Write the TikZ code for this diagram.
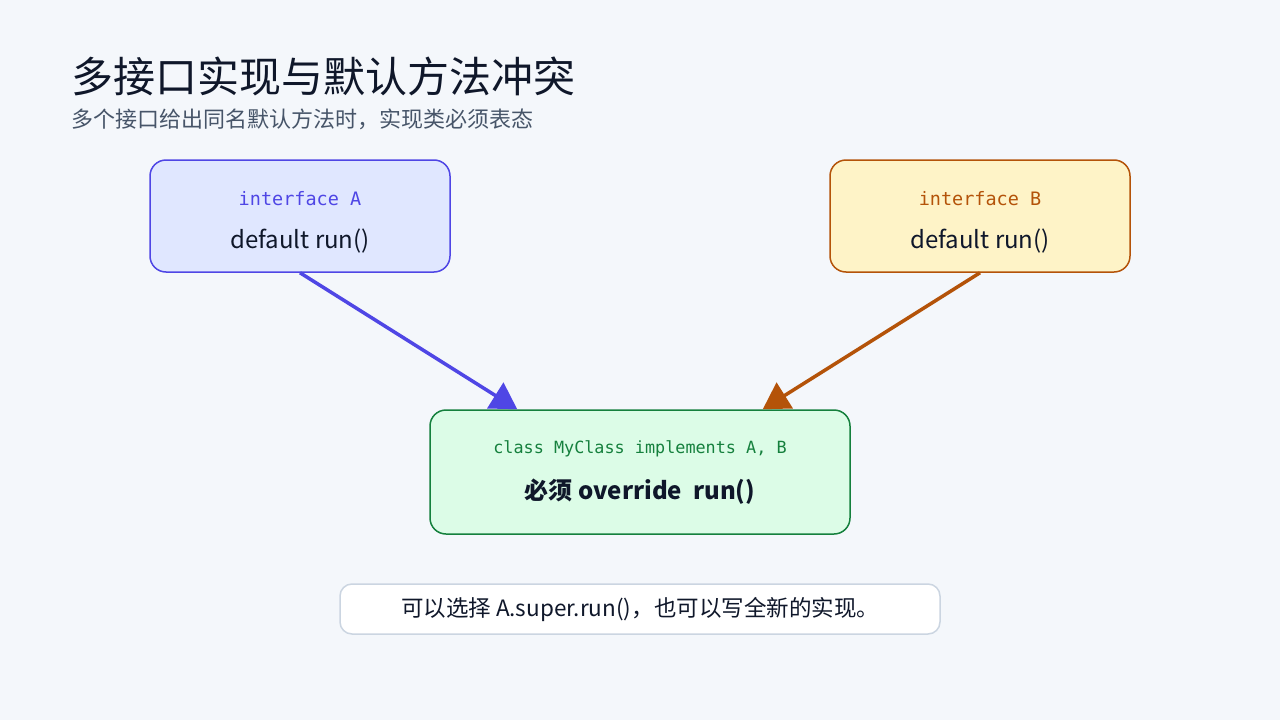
\documentclass[tikz,border=0pt]{standalone}
\usepackage{fontspec}
\setmainfont{Noto Sans CJK SC}
\newfontfamily\codefont{DejaVu Sans Mono}
\usetikzlibrary{arrows.meta}
\definecolor{pagebg}{HTML}{F4F7FB}
\definecolor{inkdark}{HTML}{0F172A}
\definecolor{inkgray}{HTML}{475569}
\definecolor{indigoline}{HTML}{4F46E5}
\definecolor{indigofill}{HTML}{E0E7FF}
\definecolor{amberline}{HTML}{B45309}
\definecolor{amberfill}{HTML}{FEF3C7}
\definecolor{greenline}{HTML}{15803D}
\definecolor{greenfill}{HTML}{DCFCE7}
\definecolor{noteline}{HTML}{CBD5E1}
\tikzset{x=1pt, y=-1pt,
every box/.style={ % rounded boxes for the types
rectangle, rounded corners=16pt, line width=1.5pt,
minimum width=300pt, minimum height=112pt},
codetext/.style={font=\codefont\fontsize{18.5}{22}\selectfont},
plaintext/.style={font=\fontsize{24}{28}\selectfont, text=inkdark},
implarrow/.style={ % big triangle heads
-{Triangle[length=26pt, width=30pt]}, line width=3.5pt}}
\begin{document}
\begin{tikzpicture}
\fill[pagebg] (0,0) rectangle (1280,720);
\useasboundingbox (0,0) rectangle (1280,720);
% heading
\node[anchor=base west, inner sep=0pt, text=inkdark, font=\fontsize{42}{48}\selectfont] (title) at (71,92) {多接口实现与默认方法冲突};
\node[anchor=base west, inner sep=0pt, text=inkgray, font=\fontsize{22}{26}\selectfont] (subtitle) at (71,127) {多个接口给出同名默认方法时，实现类必须表态};
% interfaces
\node[every box, draw=indigoline, fill=indigofill] (A) at (300,216) {};
\node[codetext, text=indigoline] (Aname) at (300,199) {interface A};
\node[plaintext] (Arun) at (300,241) {default run()};
\node[every box, draw=amberline, fill=amberfill] (B) at (980,216) {};
\node[codetext, text=amberline] (Bname) at (980,199) {interface B};
\node[plaintext] (Brun) at (980,241) {default run()};
% implementing class
\node[every box, draw=greenline, fill=greenfill, minimum width=420pt, minimum height=124pt] (C) at (640,472) {};
\node[text=greenline, font=\codefont\fontsize{16.8}{20}\selectfont] (Cname) at (640,449) {class MyClass implements A, B};
\node[plaintext, font=\fontsize{24}{28}\selectfont\bfseries] (Crun) at (640,492) {必须 override~ run()};
% note
\node[rectangle, rounded corners=12pt, draw=noteline, line width=1.5pt, fill=white,
minimum width=600pt, minimum height=50pt] (note) at (640,609) {};
\node[font=\fontsize{22.5}{26}\selectfont, text=inkdark] (notetext) at (640,609) {可以选择 A.super.run()，也可以写全新的实现。};
% arrows
\draw[implarrow, indigoline] (A.south) -- ([xshift=88pt]C.north west);
\draw[implarrow, amberline] (B.south) -- ([xshift=-88pt]C.north east);
\end{tikzpicture}
\end{document}
